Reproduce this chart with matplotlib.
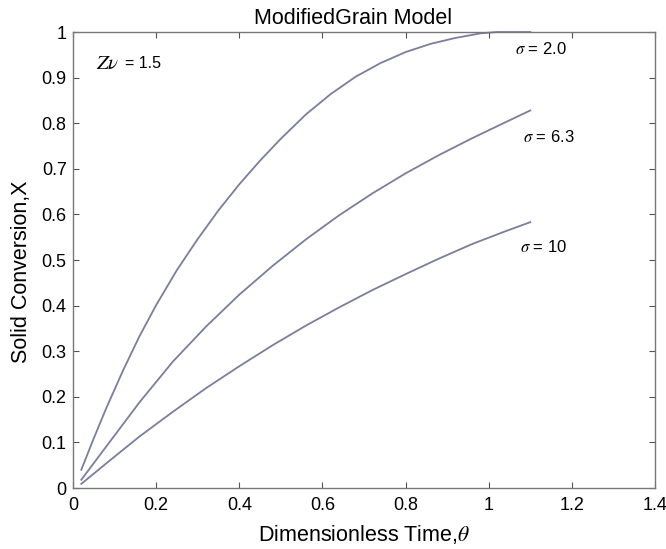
import matplotlib
matplotlib.use("Agg")
from matplotlib import pyplot as plt

plt.rcParams['font.family'] = ['Liberation Sans', 'DejaVu Sans']
plt.rcParams['mathtext.fontset'] = 'stix'

# curves (theta, X)
x_s2 = [0.02, 0.05, 0.08, 0.12, 0.16, 0.20, 0.25, 0.30, 0.35, 0.40, 0.45, 0.50, 0.56, 0.62, 0.68,
        0.74, 0.80, 0.86, 0.92, 0.98, 1.02, 1.1]
y_s2 = [0.040, 0.109, 0.175, 0.257, 0.333, 0.401, 0.478, 0.546, 0.609, 0.666, 0.718, 0.766, 0.819, 0.864, 0.902,
        0.932, 0.956, 0.974, 0.987, 0.997, 1.0, 1.0]

x_s63 = [0.02, 0.08, 0.16, 0.24, 0.32, 0.40, 0.48, 0.56, 0.64, 0.72, 0.80, 0.88, 0.96, 1.04, 1.1]
y_s63 = [0.018, 0.091, 0.188, 0.277, 0.354, 0.424, 0.487, 0.545, 0.598, 0.646, 0.690, 0.730, 0.767, 0.802, 0.828]

x_s10 = [0.02, 0.08, 0.16, 0.24, 0.32, 0.40, 0.48, 0.56, 0.64, 0.72, 0.80, 0.88, 0.96, 1.04, 1.1]
y_s10 = [0.009, 0.054, 0.113, 0.167, 0.219, 0.267, 0.313, 0.356, 0.396, 0.434, 0.469, 0.503, 0.535, 0.563, 0.583]

xticks = [0, 0.2, 0.4, 0.6, 0.8, 1.0, 1.2, 1.4]
xtick_labels = ['0', '0.2', '0.4', '0.6', '0.8', '1', '1.2', '1.4']
yticks = [0, 0.1, 0.2, 0.3, 0.4, 0.5, 0.6, 0.7, 0.8, 0.9, 1.0]
ytick_labels = ['0', '0.1', '0.2', '0.3', '0.4', '0.5', '0.6', '0.7', '0.8', '0.9', '1']

fig = plt.figure(figsize=(6.66, 5.49), dpi=100)
ax = fig.add_axes([0.1096, 0.1111, 0.8739, 0.8306])

col = '#7b7d9c'
ax.plot(x_s2, y_s2, color=col, lw=1.3, clip_on=False)
ax.plot(x_s63, y_s63, color=col, lw=1.3)
ax.plot(x_s10, y_s10, color=col, lw=1.3)

ax.set_xlim(0, 1.4)
ax.set_ylim(0, 1)
ax.set_xticks(xticks)
ax.set_xticklabels(xtick_labels)
ax.set_yticks(yticks)
ax.set_yticklabels(ytick_labels)
ax.tick_params(direction='in', top=True, right=True, length=4, width=0.8,
               colors='#555555', labelcolor='black', labelsize=13)
ax.tick_params(axis='x', pad=6.5)
ax.tick_params(axis='y', pad=4.5)
for s in ax.spines.values():
    s.set_color('#777777')
    s.set_linewidth(1.0)

ax.set_title('ModifiedGrain Model', fontsize=15.5, pad=5.5, x=0.482)
ax.set_xlabel(r'Dimensionless Time,$\theta$', fontsize=15.5, labelpad=6.5)
ax.set_ylabel('Solid Conversion,X', fontsize=15.5)
ax.yaxis.set_label_coords(-0.071, 0.475)

ax.text(0.055, 0.932, r'$Z\nu$', fontsize=15, va='center')
ax.text(0.125, 0.932, '= 1.5', fontsize=11.5, va='center')
ax.text(1.063, 0.963, r'$\sigma$ = 2.0', fontsize=12, va='center')
ax.text(1.083, 0.77, r'$\sigma$ = 6.3', fontsize=12, va='center')
ax.text(1.075, 0.529, r'$\sigma$ = 10', fontsize=12, va='center')

fig.savefig('out.png', dpi=100)
